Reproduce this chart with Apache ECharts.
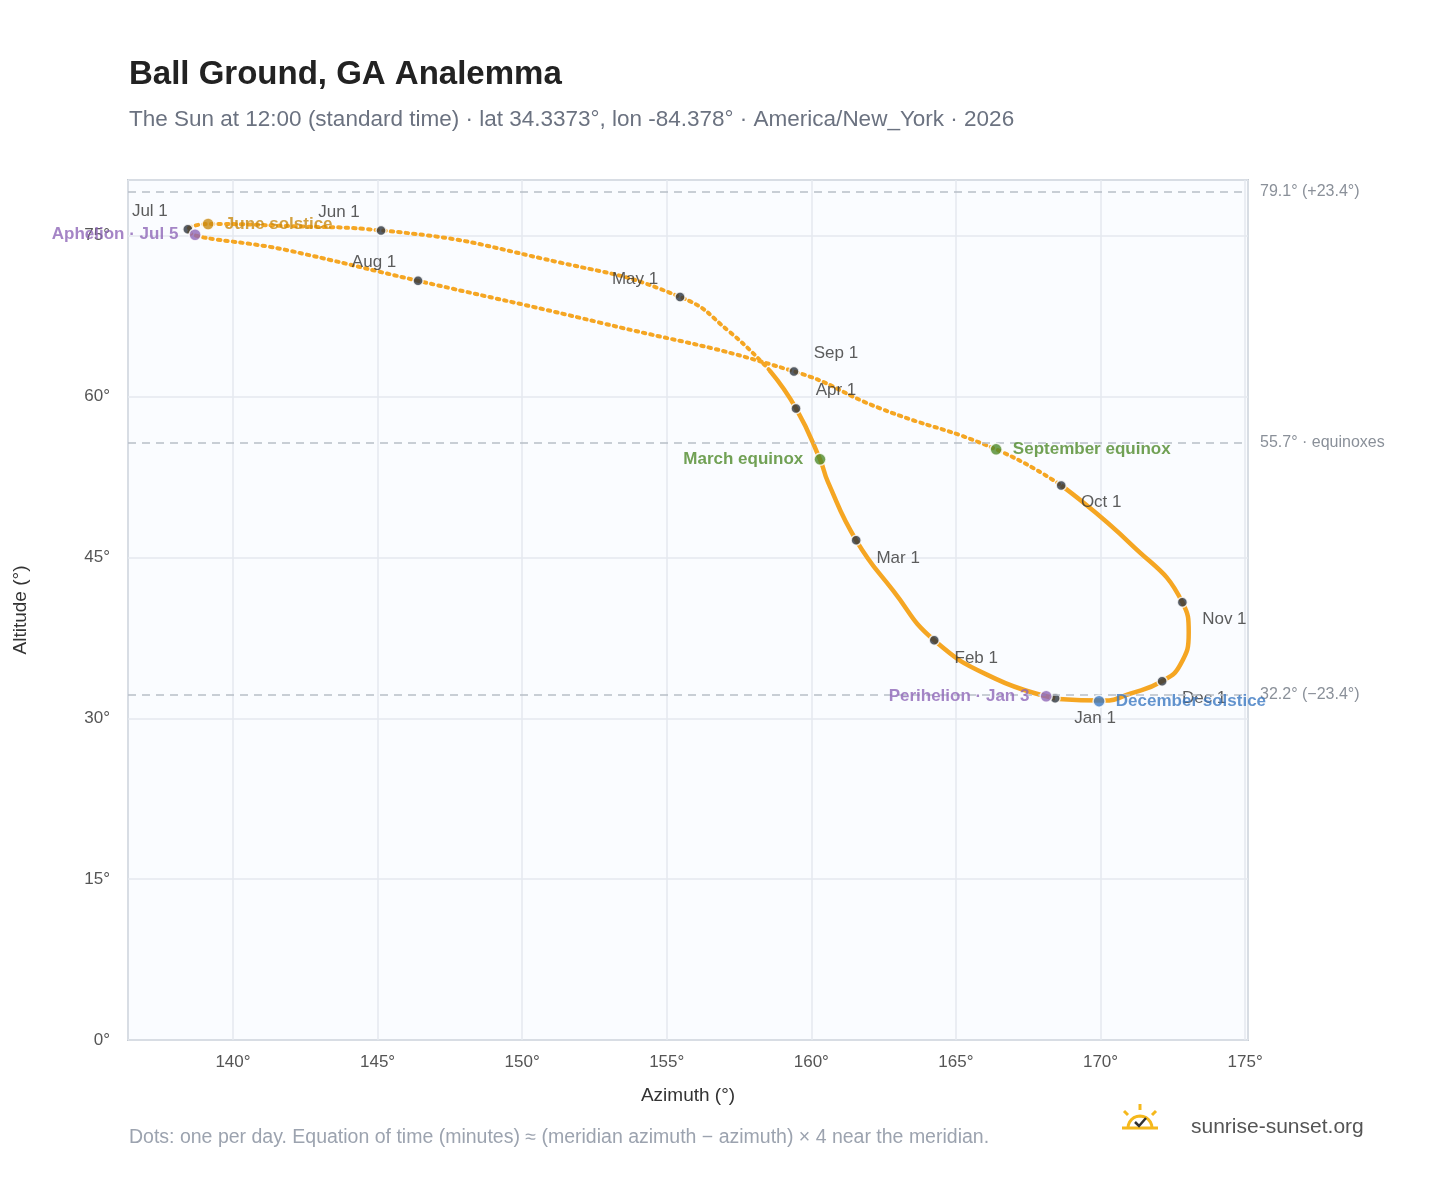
<!DOCTYPE html>
<html><head><meta charset="utf-8">
<script src="https://cdn.jsdelivr.net/npm/echarts@6/dist/echarts.min.js"></script>
<style>html,body{margin:0;background:#fff}#c{width:1448px;height:1188px}</style>
</head><body><div id="c"></div>
<script>
// path of the sun at noon (azimuth, altitude), Jan 1 -> Dec 31
const pathDates = ['Jan 1','Jan 15','Feb 1','Feb 15','Mar 1','Mar 15','Mar 20','Apr 1','Apr 10','Apr 20','May 1','May 15','Jun 1','Jun 10','Jun 21','Jul 1','Jul 15','Aug 1','Aug 15','Sep 1','Sep 10','Sep 22','Oct 1','Oct 15','Nov 1','Nov 10','Nov 20','Dec 1','Dec 10','Dec 21','Dec 31'];
const pathAz  = [168.43,166.36,164.25,162.83,161.55,160.58,160.30,159.47,158.57,157.19,155.46,151.31,145.12,141.97,139.14,138.44,141.97,146.40,152.69,159.40,162.38,166.39,168.64,171.03,172.83,173.05,172.76,172.13,171.03,170.10,168.55];
const pathAlt = [31.87,33.70,37.28,41.90,46.60,52.00,54.15,58.90,62.40,66.00,69.30,72.50,75.50,75.90,76.10,75.60,73.60,70.80,66.90,62.35,58.90,55.08,51.72,46.30,40.82,38.00,35.00,33.46,32.30,31.65,31.80];
// month markers
const months   = ['Jan 1','Feb 1','Mar 1','Apr 1','May 1','Jun 1','Jul 1','Aug 1','Sep 1','Oct 1','Nov 1','Dec 1'];
const monthAz  = [168.43,164.25,161.55,159.47,155.46,145.12,138.44,146.40,159.40,168.64,172.83,172.13];
const monthAlt = [31.87,37.28,46.60,58.90,69.30,75.50,75.60,70.80,62.35,51.72,40.82,33.46];
const monthOff = [[40,20],[42,18],[42,18],[40,-18],[-45,-18],[-42,-18],[-38,-18],[-44,-18],[42,-18],[40,17],[42,17],[42,17]];
// special events
const events   = ['June solstice','Aphelion · Jul 5','March equinox','September equinox','Perihelion · Jan 3','December solstice'];
const eventAz  = [139.14,138.69,160.30,166.39,168.12,169.95];
const eventAlt = [76.10,75.10,54.15,55.08,32.06,31.60];
const eventCol = ['#c98a12','#8e67b8','#4f8a2b','#4f8a2b','#8e67b8','#3b78c2'];
const eventPos = ['right','left','left','right','left','right'];
// reference lines
const refVals   = [79.1,55.7,32.2];
const refLabels = ['79.1° (+23.4°)','55.7° · equinoxes','32.2° (−23.4°)'];

const pts = pathAz.map((a,i)=>[a,pathAlt[i]]);
const winterA = pts.slice(0,9), summer = pts.slice(8,23), winterB = pts.slice(22);
const orange = '#f5a623';
const fmt = v => Math.abs(v/5 - Math.round(v/5))<1e-6 ? v+'°' : '';
const solid = d => ({type:'line',data:d,smooth:0.5,symbol:'none',lineStyle:{color:orange,width:4.5},z:2});

// logo half-sun outline
const sunArc = [];
for (let k = 0; k <= 12; k++) { const t = Math.PI * k / 12; sunArc.push([1140 - 12*Math.cos(t), 1128 - 12*Math.sin(t)]); }

const chart = echarts.init(document.getElementById('c'));
chart.setOption({
  textStyle:{fontFamily:'Liberation Sans, Arial, sans-serif'},
  title:[
    {text:'Ball Ground, GA Analemma',left:124,top:53,textStyle:{fontSize:33,fontWeight:'bold',color:'#222'}},
    {text:'The Sun at 12:00 (standard time) · lat 34.3373°, lon -84.378° · America/New_York · 2026',left:124,top:103,textStyle:{fontSize:22.5,fontWeight:'normal',color:'#6b7280'}},
    {text:'Dots: one per day. Equation of time (minutes) ≈ (meridian azimuth − azimuth) × 4 near the meridian.',left:124,top:1123,textStyle:{fontSize:19.5,fontWeight:'normal',color:'#9ca3af'}},
    {text:'sunrise-sunset.org',left:1186,top:1112,textStyle:{fontSize:21,fontWeight:'normal',color:'#555'}}
  ],
  graphic:[
    {type:'polyline',shape:{points:sunArc},style:{stroke:'#f5b81c',lineWidth:3,fill:'none'}},
    {type:'line',shape:{x1:1122,y1:1128,x2:1158,y2:1128},style:{stroke:'#f5b81c',lineWidth:3}},
    {type:'line',shape:{x1:1140,y1:1104,x2:1140,y2:1110},style:{stroke:'#f5b81c',lineWidth:3}},
    {type:'line',shape:{x1:1124,y1:1111,x2:1128,y2:1115},style:{stroke:'#f5b81c',lineWidth:3}},
    {type:'line',shape:{x1:1156,y1:1111,x2:1152,y2:1115},style:{stroke:'#f5b81c',lineWidth:3}},
    {type:'polyline',shape:{points:[[1135,1122],[1139,1126],[1146,1118]]},style:{stroke:'#333',lineWidth:2.5,fill:'none'}}
  ],
  grid:{left:128,right:200,top:180,bottom:148,show:true,backgroundColor:'#fafcff',borderColor:'#9aa5b1',borderWidth:1.5},
  xAxis:{type:'value',min:136.37,max:175.1,minInterval:5,maxInterval:5,name:'Azimuth (°)',nameLocation:'middle',nameGap:46,nameTextStyle:{fontSize:19,color:'#333'},
    axisLine:{show:false},axisTick:{show:false},axisLabel:{formatter:fmt,fontSize:17,color:'#555',margin:14},
    splitLine:{lineStyle:{color:'#e5e9ef',width:1.5}}},
  yAxis:{type:'value',min:0,max:80.2,interval:15,name:'Altitude (°)',nameLocation:'middle',nameGap:98,nameTextStyle:{fontSize:19,color:'#333'},
    axisLine:{show:false},axisTick:{show:false},axisLabel:{formatter:v=>v%15===0?v+'°':'',fontSize:17,color:'#555',margin:18},
    splitLine:{lineStyle:{color:'#e5e9ef',width:1.5}}},
  series:[
    Object.assign(solid(winterA),{markLine:{silent:true,symbol:'none',lineStyle:{type:[8,6],color:'#b8bfc8',width:1.5},
        label:{position:'end',color:'#8a9099',fontSize:16,distance:12},
        data:refVals.map((v,i)=>({yAxis:v,label:{formatter:refLabels[i]}}))}}),
    solid(winterB),
    {type:'line',data:summer,smooth:0.5,symbol:'none',lineStyle:{color:orange,width:4,type:[2.5,5],cap:'round'},z:2},
    {type:'scatter',symbolSize:10,z:4,itemStyle:{color:'#2d3440',borderColor:'#fff',borderWidth:1.5},
      data:months.map((m,i)=>({value:[monthAz[i],monthAlt[i]],label:{show:true,formatter:m,position:'inside',offset:monthOff[i],fontSize:17,color:'#333'}}))},
    {type:'scatter',symbolSize:12,z:5,
      data:events.map((e,i)=>({value:[eventAz[i],eventAlt[i]],itemStyle:{color:eventCol[i],borderColor:'#fff',borderWidth:1.5},
        label:{show:true,formatter:e,position:eventPos[i],distance:10,fontSize:17,fontWeight:'bold',color:eventCol[i]}}))}
  ]
});
</script></body></html>
